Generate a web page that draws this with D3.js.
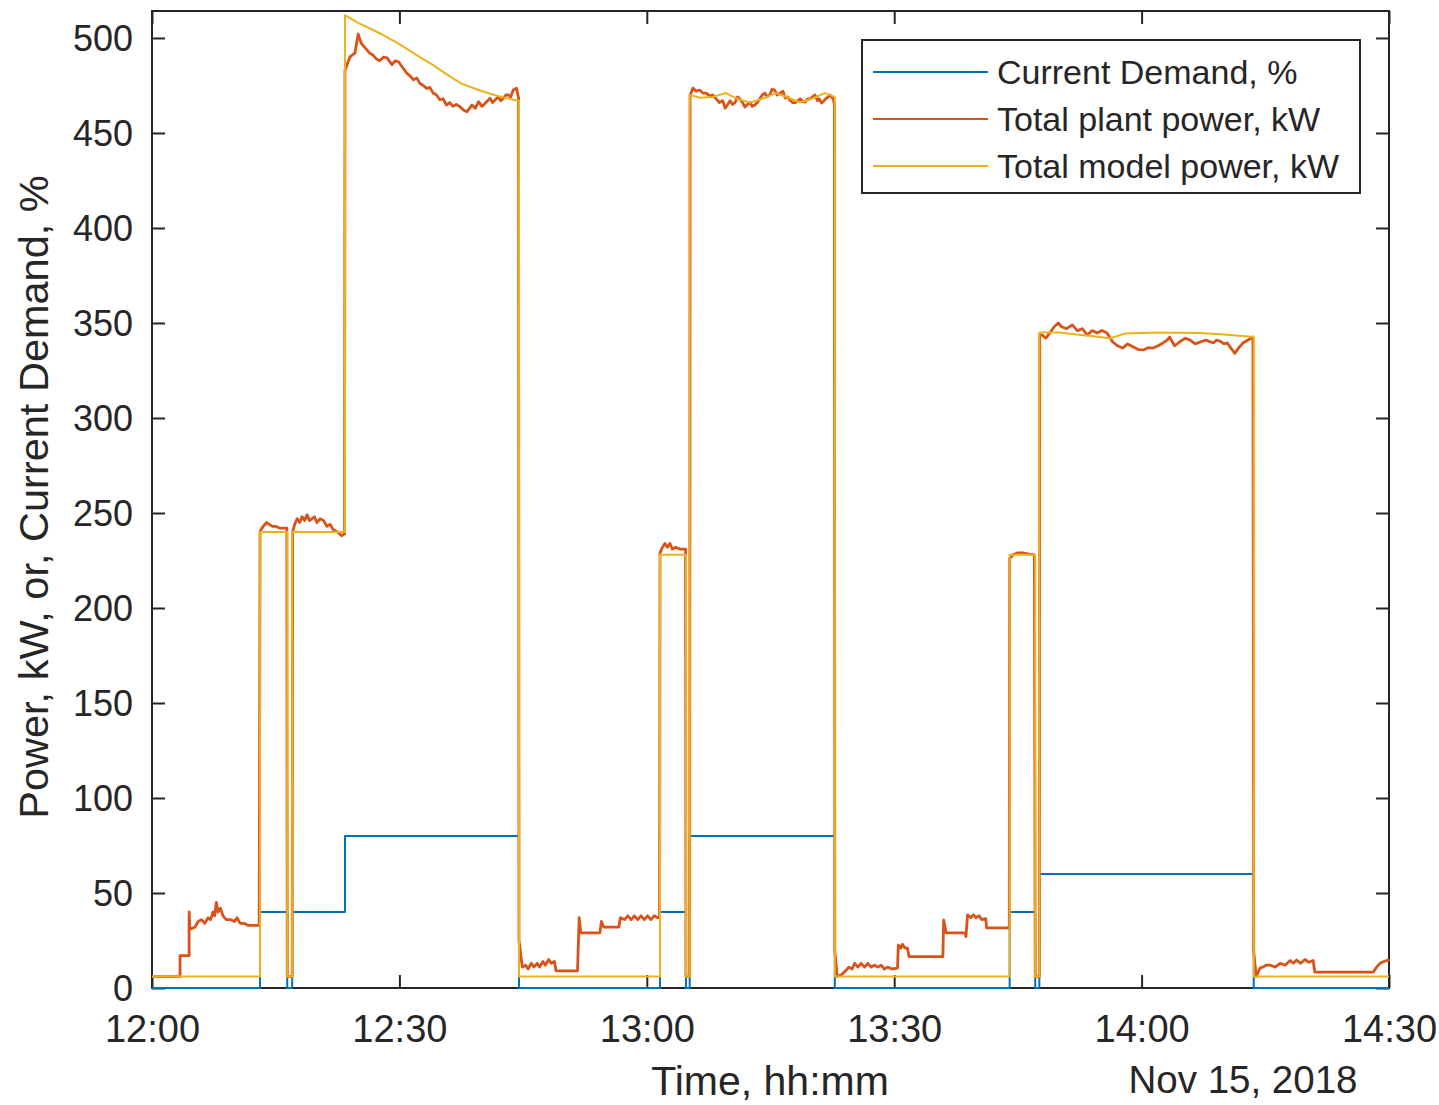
<!DOCTYPE html>
<html>
<head>
<meta charset="utf-8">
<script src="https://cdn.jsdelivr.net/npm/d3@7"></script>
<style>
  body { margin: 0; background: #fff; }
  text { font-family: "Liberation Sans", Arial, sans-serif; fill: #262626; }
</style>
</head>
<body>
<div id="chart"></div>
<script>
// minutes after 12:00 on Nov 15, 2018
var demandTimes = [0, 13.1, 13.1, 16.4, 16.4, 17.0, 17.0, 23.4, 23.4, 44.5, 44.5, 61.6, 61.6, 64.75, 64.75, 65.2, 65.2, 82.8, 82.8, 104.0, 104.0, 107.1, 107.1, 107.6, 107.6, 133.6, 133.6, 150];
var demandValues = [0, 0, 40, 40, 0, 0, 40, 40, 80, 80, 0, 0, 40, 40, 0, 0, 80, 80, 0, 0, 40, 40, 0, 0, 60, 60, 0, 0];

var plantTimes = [
  0, 3.4, 3.4, 4.5, 4.5, 4.6, 5.2, 5.6, 6.0, 6.4, 6.8, 7.1, 7.4, 7.6, 7.8, 8.0, 8.3, 8.6, 9.0, 9.5, 10.0, 10.3, 10.7, 11.2, 11.6, 12.2, 13.0,
  13.1, 13.2, 13.5, 13.9, 14.2, 14.6, 15.0, 15.5, 16.0, 16.35, 16.4, 17.0,
  17.05, 17.3, 17.6, 17.9, 18.2, 18.5, 18.8, 19.1, 19.4, 19.7, 20.0, 20.4, 20.8, 21.2, 21.6, 22.0, 22.5, 23.0, 23.35,
  23.4, 24.0, 24.6, 25.0, 25.4, 26.0, 26.4, 26.8, 27.2, 27.6, 28.1, 28.5, 29.1, 29.5, 29.9, 30.3, 30.9, 31.3, 31.7, 32.1, 32.5, 32.9, 33.3, 33.7, 34.1, 34.5, 34.9, 35.3, 35.7, 36.1, 36.5, 36.9, 37.3, 37.8, 38.2, 38.8, 39.2, 39.6, 40.0, 40.4, 41.0, 41.3, 41.6, 42.0, 42.3, 42.6, 42.9, 43.2, 43.5, 43.8, 44.2, 44.45,
  44.5, 44.7, 44.9, 45.3, 45.6, 46.0, 46.3, 46.7, 47.0, 47.4, 47.7, 48.1, 48.4, 48.8, 49.0, 51.6, 51.8, 52.0, 54.3, 54.5, 54.8, 56.6, 56.8, 57.3, 57.7, 58.1, 58.5, 58.9, 59.3, 59.7, 60.1, 60.5, 60.9, 61.3, 61.55,
  61.6, 61.9, 62.2, 62.5, 62.8, 63.1, 63.5, 64.0, 64.5, 64.7, 64.75, 65.2,
  65.25, 65.6, 66.0, 66.4, 66.8, 67.2, 67.6, 68.0, 68.4, 68.8, 69.2, 69.5, 70.1, 70.4, 70.7, 71.0, 71.3, 71.6, 71.9, 72.2, 72.5, 72.8, 73.1, 73.4, 73.7, 74.0, 74.3, 74.6, 74.9, 75.2, 75.5, 75.8, 76.2, 76.5, 76.8, 77.1, 77.4, 77.7, 78.0, 78.3, 78.6, 78.9, 79.2, 79.5, 79.8, 80.1, 80.4, 80.7, 80.9, 81.2, 81.5, 81.7, 82.0, 82.2, 82.6, 82.75,
  82.8, 83.1, 83.6, 84.1, 84.5, 84.9, 85.2, 85.6, 86.0, 86.4, 86.8, 87.2, 87.6, 88.0, 88.4, 88.8, 89.2, 89.7, 90.4, 90.5, 90.8, 91.0, 91.3, 91.6, 91.8, 95.9, 96.0, 96.3, 98.6, 98.7, 98.9, 99.3, 99.6, 99.9, 100.3, 100.6, 101.1, 101.2, 103.95,
  104.0, 104.4, 105.0, 105.6, 106.2, 107.0, 107.1, 107.6,
  107.65, 107.9, 108.4, 108.9, 109.4, 109.9, 110.3, 110.9, 111.6, 112.2, 112.8, 113.4, 114.0, 114.6, 115.2, 115.8, 116.2, 116.5, 117.1, 117.7, 118.3, 119.0, 119.6, 120.2, 120.8, 121.4, 122.0, 122.6, 123.1, 123.4, 124.0, 124.6, 125.3, 125.9, 126.5, 127.1, 127.8, 128.7, 129.1, 129.5, 130.0, 130.4, 130.8, 131.3, 131.8, 132.3, 132.9, 133.5,
  133.6, 133.9, 134.35, 134.7, 135.1, 135.6, 136.2, 136.8, 137.4, 138.0, 138.4, 138.8, 139.3, 139.8, 140.3, 140.8, 141.0, 148.1, 148.5, 148.9, 149.4, 149.9, 150
];
var plantValues = [
  6, 6, 17, 17, 40, 31, 32, 35, 36, 34, 37, 36, 40, 38, 45, 40, 42, 38, 36, 36, 35, 37, 34, 34, 33, 33, 33,
  240, 241, 243, 245, 244, 243, 243, 242, 242, 242, 6, 6,
  240, 244, 247, 245, 248, 246, 249, 246, 247, 248, 245, 247, 246, 243, 244, 241, 240, 238, 239,
  483, 490, 492, 502, 497, 494, 492, 491, 489, 488, 490, 489.5, 486, 488, 487.5, 485, 481.5, 480, 478, 479, 476, 475, 473.5, 474, 471, 470, 467.5, 468, 464.7, 466, 464, 465, 464, 462, 461.2, 464.7, 463, 466.5, 464, 465.6, 468.3, 466, 467.4, 469, 467, 468.3, 470, 470, 469, 472.6, 473.6, 468.4,
  25, 18, 11, 12, 10, 13, 11, 13, 11, 14, 12, 15, 13, 14, 9, 9, 37, 29, 29, 35, 32, 32, 37, 36, 38, 36, 38, 36, 38, 36, 38, 36, 38, 37, 37,
  229, 232, 234, 232, 234, 231, 232, 231, 231, 231, 6, 6,
  470, 473.6, 472, 472.6, 471, 471, 469.5, 470, 468, 466, 467, 463, 467, 465, 466, 469, 468, 466, 463.7, 465, 466, 464, 464.7, 466, 468, 470, 471, 469, 470, 473, 472.6, 470, 471, 472, 468.4, 469, 467, 466, 466, 467, 468, 466.5, 466.3, 468, 468, 469, 470, 467, 468, 465.8, 467, 468, 469, 470, 468, 465,
  19, 6, 7, 9, 11, 10, 13, 11, 13, 11, 13, 11, 12, 11, 12, 10, 11, 10, 10.5, 22.6, 21, 23, 21, 21, 16.5, 16.5, 35.8, 29, 29, 27, 38.5, 37, 38.5, 37, 38, 36, 36.5, 31.6, 31.6,
  226, 228, 229, 229, 228.5, 228, 6, 6,
  343.7, 343.7, 342, 345, 348, 350, 348, 347, 349, 346, 347, 343.7, 346, 344.7, 346, 344.7, 342, 340, 338, 336.8, 339, 337.4, 336, 335.8, 337, 336.8, 338, 339.5, 341, 342.6, 338, 340, 342, 341, 339, 340, 341, 339.5, 341, 340.5, 339, 339.5, 337, 334, 337, 339.5, 341, 342.6,
  19, 6, 10.5, 11, 12, 12, 11, 13, 12, 14.5, 13, 14.7, 13, 15, 13.5, 14.5, 8.4, 8.4, 11, 13, 14, 14.7, 14
];

var modelTimes = [0, 13.1, 13.1, 16.4, 16.4, 17.0, 17.0, 23.4, 23.4, 25.0, 27.6, 29.9, 31.7, 34.0, 35.7, 37.5, 39.6, 41.5, 43.8, 44.5, 44.5, 61.6, 61.6, 64.75, 64.75, 65.2, 65.2, 66.5, 68.0, 69.6, 71.0, 72.5, 74.0, 75.7, 77.5, 78.6, 80.0, 81.6, 82.8, 82.8, 104.0, 104.0, 107.1, 107.1, 107.6, 107.6, 110.0, 113.0, 116.2, 118.0, 122.0, 127.1, 130.0, 133.6, 133.6, 150];
var modelValues = [6, 6, 240, 240, 6, 6, 240, 240, 512, 508, 502.5, 497, 492, 486, 481, 476, 472.6, 470, 467.5, 467, 6, 6, 228, 228, 6, 6, 470, 468.5, 469, 471, 468, 466, 468, 471, 468, 466, 468, 471, 469, 6, 6, 228, 228, 6, 6, 345, 345, 343.5, 342, 344.5, 345, 344.7, 344, 342.6, 6, 6];

var seriesNames = ["Current Demand, %", "Total plant power, kW", "Total model power, kW"];
var seriesColors = ["#0072BD", "#D95319", "#EDB120"];
var yTicks = [0, 50, 100, 150, 200, 250, 300, 350, 400, 450, 500];

var base = new Date(2018, 10, 15, 12, 0);
function toDate(m) { return new Date(base.getTime() + m * 60000); }

var W = 1439, H = 1105;
var mLeft = 152, mRight = 1389, mTop = 11, mBottom = 988;

var svg = d3.select('#chart').append('svg').attr('width', W).attr('height', H);

var x = d3.scaleTime().domain([toDate(0), toDate(150)]).range([mLeft, mRight]);
var y = d3.scaleLinear().domain([0, 514.2]).range([mBottom, mTop]);

var tickLen = 13;
var xTickVals = d3.range(0, 151, 30).map(toDate);

// axes
var gx = svg.append('g').attr('transform', 'translate(0,' + mBottom + ')')
  .call(d3.axisBottom(x).tickValues(xTickVals).tickFormat(d3.timeFormat('%H:%M')).tickSizeInner(-tickLen).tickSizeOuter(0).tickPadding(27));
var gxTop = svg.append('g').attr('transform', 'translate(0,' + mTop + ')')
  .call(d3.axisTop(x).tickValues(xTickVals).tickFormat('').tickSizeInner(-tickLen).tickSizeOuter(0));
var gy = svg.append('g').attr('transform', 'translate(' + mLeft + ',0)')
  .call(d3.axisLeft(y).tickValues(yTicks).tickSizeInner(-tickLen).tickSizeOuter(0).tickPadding(19));
var gyRight = svg.append('g').attr('transform', 'translate(' + mRight + ',0)')
  .call(d3.axisRight(y).tickValues(yTicks).tickFormat('').tickSizeInner(-tickLen).tickSizeOuter(0));

[gx, gxTop, gy, gyRight].forEach(function(g) {
  g.select('.domain').remove();
  g.selectAll('.tick line').attr('stroke', '#262626').attr('stroke-width', 2);
  g.selectAll('.tick text').style('font-family', '"Liberation Sans", Arial, sans-serif').attr('fill', '#262626');
});
gy.selectAll('.tick text').style('font-size', '36px').attr('dy', '0.36em');
gx.selectAll('.tick text').style('font-size', '38px').attr('dy', '0.71em');

svg.append('rect')
  .attr('x', mLeft).attr('y', mTop)
  .attr('width', mRight - mLeft).attr('height', mBottom - mTop)
  .attr('fill', 'none').attr('stroke', '#262626').attr('stroke-width', 2);

// lines
function pairs(ts, vs) { return ts.map(function(t, i) { return [t, vs[i]]; }); }
var line = d3.line().x(function(d) { return x(toDate(d[0])); }).y(function(d) { return y(d[1]); });

var allSeries = [pairs(demandTimes, demandValues), pairs(plantTimes, plantValues), pairs(modelTimes, modelValues)];
var widths = [2, 2.8, 2];

svg.selectAll('path.series')
  .data(allSeries)
  .enter()
  .append('path')
  .attr('class', 'series')
  .attr('d', line)
  .attr('fill', 'none')
  .attr('stroke', function(d, i) { return seriesColors[i]; })
  .attr('stroke-width', function(d, i) { return widths[i]; })
  .attr('stroke-linejoin', 'round');

// axis labels
svg.append('text')
  .attr('transform', 'translate(48,497) rotate(-90)')
  .attr('text-anchor', 'middle')
  .style('font-size', '41.5px')
  .text('Power, kW, or, Current Demand, %');

svg.append('text')
  .attr('x', 770).attr('y', 1095)
  .attr('text-anchor', 'middle')
  .style('font-size', '41px')
  .text('Time, hh:mm');

svg.append('text')
  .attr('x', 1243).attr('y', 1093)
  .attr('text-anchor', 'middle')
  .style('font-size', '38.5px')
  .text('Nov 15, 2018');

// legend
var legend = svg.append('g');
legend.append('rect')
  .attr('x', 862).attr('y', 40).attr('width', 498).attr('height', 153)
  .attr('fill', '#fff').attr('stroke', '#262626').attr('stroke-width', 2);

var rows = legend.selectAll('g.row')
  .data(seriesNames)
  .enter()
  .append('g')
  .attr('class', 'row')
  .attr('transform', function(d, i) { return 'translate(0,' + (72 + i * 47) + ')'; });

rows.append('line')
  .attr('x1', 873).attr('x2', 988)
  .attr('y1', 0).attr('y2', 0)
  .attr('stroke', function(d, i) { return seriesColors[i]; })
  .attr('stroke-width', 2);

rows.append('text')
  .attr('x', 997).attr('y', 12)
  .style('font-size', '34px')
  .text(function(d) { return d; });
</script>
</body>
</html>
